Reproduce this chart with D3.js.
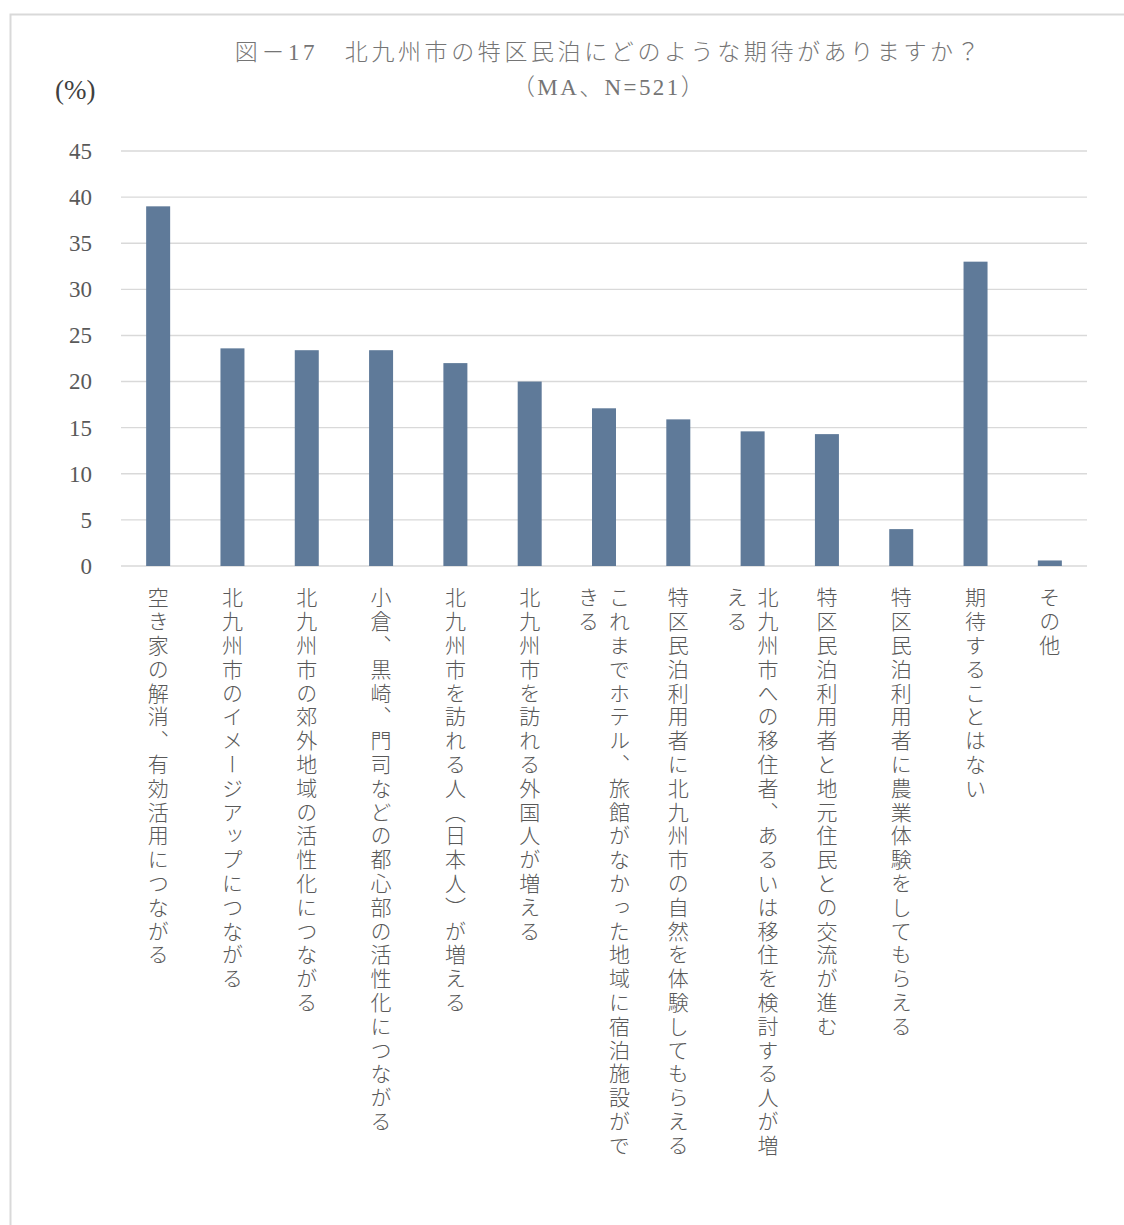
<!DOCTYPE html>
<html>
<head>
<meta charset="utf-8">
<script src="https://cdnjs.cloudflare.com/ajax/libs/d3/7.8.5/d3.min.js"></script>
<style>
  html, body { margin: 0; padding: 0; background: #fff; }
  svg { display: block; }
</style>
</head>
<body>
<div id="chart"></div>
<script>
// chart values
var categories = [
    '空き家の解消、有効活用につながる',
    '北九州市のイメージアップにつながる',
    '北九州市の郊外地域の活性化につながる',
    '小倉、黒崎、門司などの都心部の活性化につながる',
    '北九州市を訪れる人（日本人）が増える',
    '北九州市を訪れる外国人が増える',
    'これまでホテル、旅館がなかった地域に宿泊施設ができる',
    '特区民泊利用者に北九州市の自然を体験してもらえる',
    '北九州市への移住者、あるいは移住を検討する人が増える',
    '特区民泊利用者と地元住民との交流が進む',
    '特区民泊利用者に農業体験をしてもらえる',
    '期待することはない',
    'その他'
];
var values = [39.0, 23.6, 23.4, 23.4, 22.0, 20.0, 17.1, 15.9, 14.6, 14.3, 4.0, 33.0, 0.6];
var yTicks = [0, 5, 10, 15, 20, 25, 30, 35, 40, 45];
var titleLines = ['図－17　北九州市の特区民泊にどのような期待がありますか？', '（MA、N=521）'];
var unitLabel = '(%)';

var W = 1124, H = 1225;
var plot = { left: 121, right: 1087, top: 151, bottom: 566 };
var serif = '"Liberation Serif", "DejaVu Serif", serif';
var jp = '"Noto Sans CJK JP", sans-serif';
var maxChars = 24;

var svg = d3.select('#chart').append('svg')
    .attr('width', W)
    .attr('height', H);

// outer frame (runs off the right and bottom edge)
svg.append('rect')
    .attr('x', 10.5).attr('y', 14.5)
    .attr('width', W + 20).attr('height', H + 20)
    .attr('fill', 'none')
    .attr('stroke', '#d9d9d9')
    .attr('stroke-width', 2);

var x = d3.scaleBand()
    .domain(categories)
    .range([plot.left, plot.right])
    .paddingInner(0.677)
    .paddingOuter(0.3385);

var y = d3.scaleLinear()
    .domain([0, 45])
    .range([plot.bottom, plot.top]);

// gridlines
svg.append('g')
    .selectAll('line')
    .data(yTicks)
    .join('line')
    .attr('x1', plot.left).attr('x2', plot.right)
    .attr('y1', function(d) { return y(d); })
    .attr('y2', function(d) { return y(d); })
    .attr('stroke', '#d9d9d9')
    .attr('stroke-width', 1.4);

// y axis labels
var yAxis = d3.axisLeft(y).tickValues(yTicks).tickSize(0).tickPadding(0);
svg.append('g')
    .attr('transform', 'translate(92,0)')
    .call(yAxis)
    .call(function(g) { g.select('.domain').remove(); })
    .selectAll('text')
    .attr('font-family', serif)
    .attr('font-size', 23)
    .attr('fill', '#595959');

// bars
svg.append('g')
    .selectAll('rect')
    .data(values)
    .join('rect')
    .attr('x', function(d, i) { return x(categories[i]); })
    .attr('width', x.bandwidth())
    .attr('y', function(d) { return y(d); })
    .attr('height', function(d) { return y(0) - y(d); })
    .attr('fill', '#5f7a99');

// vertical category labels, wrapped to columns (right to left)
var labels = svg.append('g');
categories.forEach(function(c, i) {
    var chars = Array.from(c);
    var cols = [];
    for (var k = 0; k < chars.length; k += maxChars) {
        cols.push(chars.slice(k, k + maxChars).join(''));
    }
    var cx = x(c) + x.bandwidth() / 2;
    var gap = 31;
    cols.forEach(function(line, j) {
        var off = (cols.length - 1) * gap / 2 - j * gap;
        labels.append('text')
            .attr('x', cx + off)
            .attr('y', 587)
            .attr('font-family', jp)
            .attr('font-weight', 300)
            .attr('font-size', 21)
            .attr('letter-spacing', 2.8)
            .attr('fill', '#595959')
            .style('writing-mode', 'vertical-rl')
            .text(line);
    });
});

// title
var title = svg.append('g');
titleLines.forEach(function(t, i) {
    title.append('text')
        .attr('x', 609)
        .attr('y', 60 + i * 35)
        .attr('text-anchor', 'middle')
        .attr('font-family', serif + ',' + jp)
        .attr('font-weight', 300)
        .attr('font-size', 23)
        .attr('letter-spacing', i === 0 ? 3.6 : 2.4)
        .attr('fill', '#757575')
        .text(t);
});

// unit label
svg.append('text')
    .attr('x', 55)
    .attr('y', 99)
    .attr('font-family', serif)
    .attr('font-size', 27)
    .attr('fill', '#404040')
    .text(unitLabel);
</script>
</body>
</html>
